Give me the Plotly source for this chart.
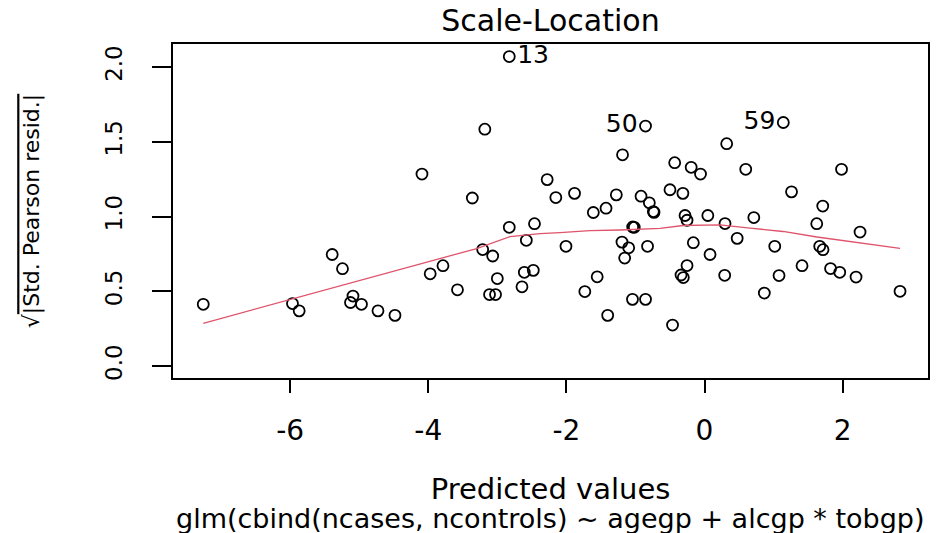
import plotly.graph_objects as go

# Predicted values (x) and sqrt(|Std. Pearson resid.|) (y)
predicted = [
    -7.258, -5.966, -5.869, -5.391, -5.242, -5.090, -5.126, -4.967, -4.728, -4.482,
    -4.091, -3.972, -3.787, -3.577, -3.362, -3.181, -2.827, -2.827, -3.212, -3.067,
    -3.000, -3.113, -3.026, -2.643, -2.609, -2.479, -2.580, -2.462, -2.278, -2.153,
    -1.882, -2.006, -1.733, -1.554, -1.402, -1.610, -1.426, -1.277, -1.187, -0.854,
    -1.195, -1.098, -1.156, -1.040, -1.017, -0.825, -1.043, -0.854, -0.919, -0.799,
    -0.741, -0.731, -0.432, -0.193, -0.058, -0.500, -0.313, -0.282, -0.253, -0.162,
    0.080, -0.253, -0.340, -0.307, -0.463, 0.048, 0.297, 0.321, 0.597, 1.141,
    0.473, 0.292, 0.714, 1.017, 0.866, 1.079, 1.260, 1.412, 1.625, 1.712,
    1.668, 1.716, 1.825, 1.958, 2.194, 1.984, 2.252, 2.831,
]
sqrt_abs_resid = [
    0.413, 0.418, 0.369, 0.746, 0.651, 0.468, 0.425, 0.413, 0.369, 0.339,
    1.284, 0.617, 0.671, 0.510, 1.124, 1.584, 2.070, 0.928, 0.779, 0.736,
    0.585, 0.478, 0.478, 0.530, 0.627, 0.640, 0.841, 0.952, 1.247, 1.127,
    1.155, 0.801, 0.498, 0.597, 0.339, 1.027, 1.056, 1.145, 1.413, 1.605,
    0.829, 0.791, 0.722, 0.930, 0.928, 0.801, 0.446, 0.446, 1.136, 1.092,
    1.033, 1.028, 1.360, 1.329, 1.284, 1.179, 1.155, 1.007, 0.975, 0.825,
    0.746, 0.672, 0.609, 0.592, 0.274, 1.007, 0.953, 1.487, 1.316, 1.629,
    0.854, 0.607, 0.993, 0.801, 0.488, 0.605, 1.165, 0.671, 0.952, 1.070,
    0.801, 0.778, 0.652, 0.627, 0.595, 1.316, 0.896, 0.500,
]
# labelled observations: index in arrays -> label
point_labels = {16: "13", 39: "50", 69: "59"}
label_sides = {16: "middle right", 39: "middle left", 69: "middle left"}

# smoother line
smooth_x = [-7.258, -5.944, -5.075, -3.960, -3.299, -2.816, -2.382, -2.092, -1.658,
            -1.224, -0.644, -0.311, 0.224, 0.659, 1.137, 1.629, 2.107, 2.831]
smooth_y = [0.286, 0.452, 0.562, 0.702, 0.786, 0.866, 0.886, 0.893, 0.906,
            0.910, 0.921, 0.940, 0.944, 0.923, 0.900, 0.863, 0.831, 0.787]

x_ticks = [-6, -4, -2, 0, 2]
y_ticks = [0.0, 0.5, 1.0, 1.5, 2.0]
y_tick_text = ["0.0", "0.5", "1.0", "1.5", "2.0"]

FONT = "DejaVu Sans"

texts = [point_labels.get(i, "") for i in range(len(predicted))]
positions = [label_sides.get(i, "middle right") for i in range(len(predicted))]

fig = go.Figure()
fig.add_trace(go.Scatter(
    x=predicted, y=sqrt_abs_resid, mode="markers+text",
    text=texts, textposition=positions,
    textfont=dict(family=FONT, size=25, color="black"),
    marker=dict(symbol="circle-open", size=11, color="black", line=dict(width=1.8, color="black")),
    showlegend=False, hoverinfo="x+y",
))
fig.add_trace(go.Scatter(
    x=smooth_x, y=smooth_y, mode="lines",
    line=dict(color="#DF536B", width=1.3),
    showlegend=False, hoverinfo="skip",
))

fig.update_layout(
    width=942, height=533, autosize=False,
    margin=dict(l=173, r=14, t=44, b=155),
    paper_bgcolor="white", plot_bgcolor="white",
    title=dict(text="Scale-Location", x=0.5, xref="paper", xanchor="center",
               y=1 - 20 / 533, yref="container", yanchor="middle",
               font=dict(family=FONT, size=30, color="black")),
    xaxis=dict(
        range=[-7.696, 3.236], showgrid=False, zeroline=False,
        showline=True, mirror=True, linecolor="black", linewidth=1.8,
        tickmode="array", tickvals=x_ticks, ticktext=[str(v) for v in x_ticks],
        ticks="outside", ticklen=13, tickwidth=1.8, tickcolor="black",
        ticklabelstandoff=13,
        tickfont=dict(family=FONT, size=28, color="black"),
        title=dict(text="Predicted values",
                   font=dict(family=FONT, size=29, color="black"), standoff=33),
    ),
    yaxis=dict(
        range=[-0.080, 2.154], showgrid=False, zeroline=False,
        showline=True, mirror=True, linecolor="black", linewidth=1.8,
        tickmode="array", tickvals=y_ticks, ticktext=y_tick_text,
        ticks="outside", ticklen=19, tickwidth=1.8, tickcolor="black",
        tickangle=-90, ticklabelstandoff=21,
        tickfont=dict(family=FONT, size=23, color="black"),
        title=dict(text='√<span style="text-decoration:overline">|Std. Pearson resid.|</span>',
                   font=dict(family=FONT, size=22, color="black"), standoff=55),
    ),
    annotations=[dict(
        text="glm(cbind(ncases, ncontrols) ~ agegp + alcgp * tobgp)",
        xref="paper", yref="paper", x=0.5, y=0, xanchor="center", yanchor="middle",
        yshift=-140, showarrow=False,
        font=dict(family=FONT, size=27, color="black"),
    )],
)

# remove the default page margin so the figure sits at the window's top-left corner
fig.write_html("out.html", config={"displayModeBar": False},
               post_script="document.body.style.margin='0';")
